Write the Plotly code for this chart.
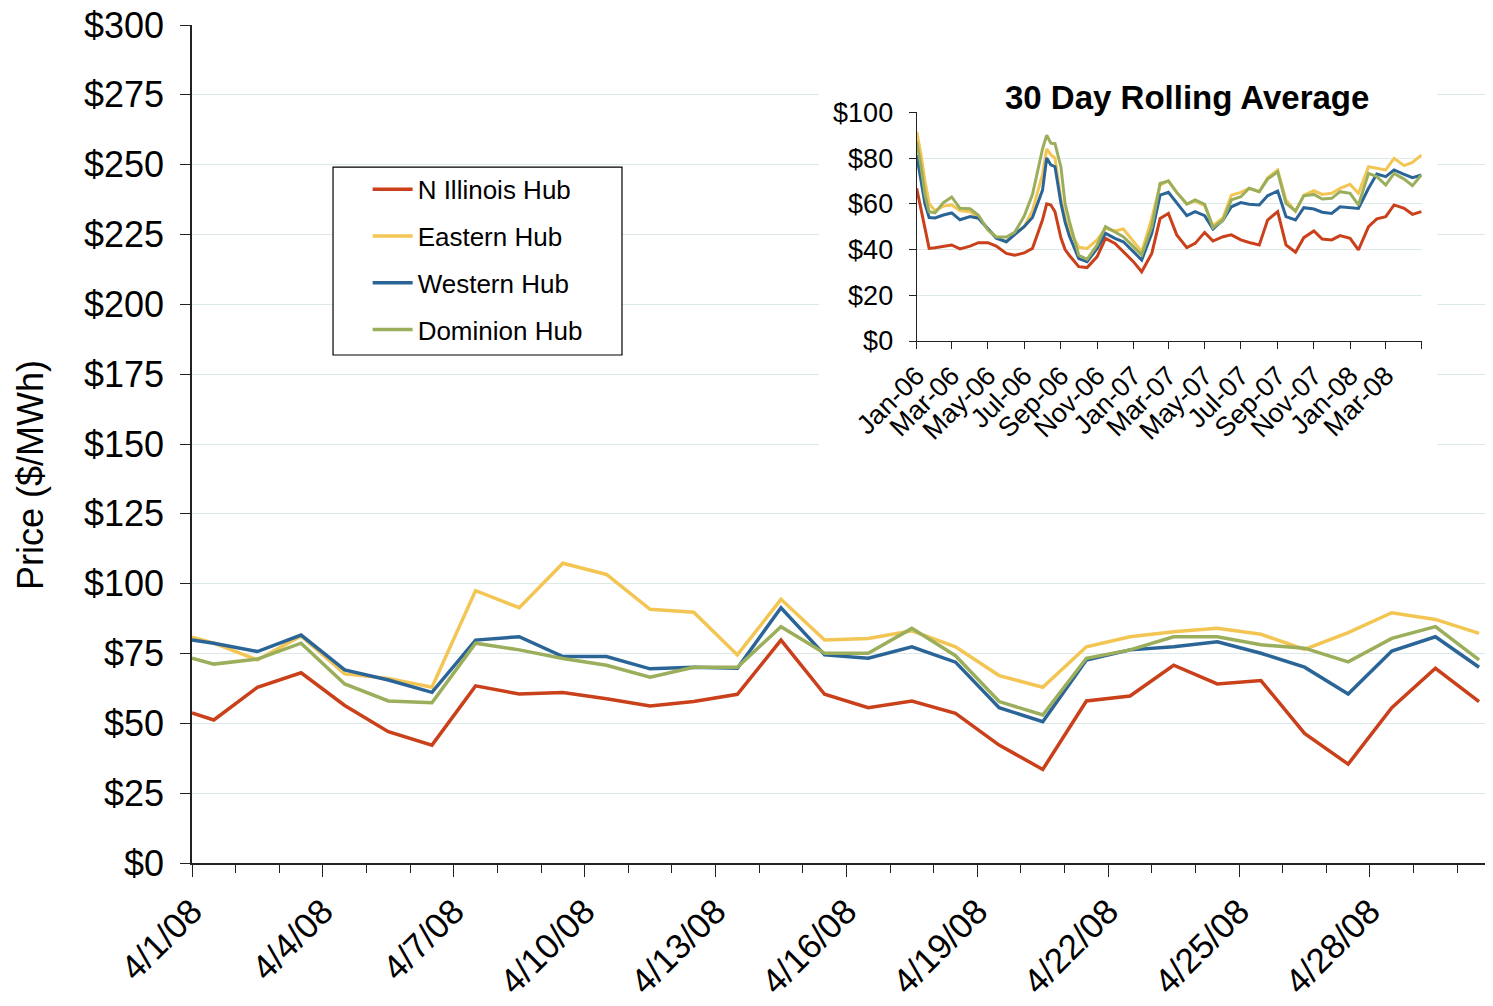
"""PJM hub daily prices for April 2008 with a 30-day rolling average inset."""
import plotly.graph_objects as go

# ---- Main chart data: daily on-peak prices, April 2008 ($/MWh) -------
DAYS = [
    "2008-04-01 00:00", "2008-04-01 12:00", "2008-04-02 12:00", "2008-04-03 12:00",
    "2008-04-04 12:00", "2008-04-05 12:00", "2008-04-06 12:00", "2008-04-07 12:00",
    "2008-04-08 12:00", "2008-04-09 12:00", "2008-04-10 12:00", "2008-04-11 12:00",
    "2008-04-12 12:00", "2008-04-13 12:00", "2008-04-14 12:00", "2008-04-15 12:00",
    "2008-04-16 12:00", "2008-04-17 12:00", "2008-04-18 12:00", "2008-04-19 12:00",
    "2008-04-20 12:00", "2008-04-21 12:00", "2008-04-22 12:00", "2008-04-23 12:00",
    "2008-04-24 12:00", "2008-04-25 12:00", "2008-04-26 12:00", "2008-04-27 12:00",
    "2008-04-28 12:00", "2008-04-29 12:00", "2008-04-30 12:00",
]
N_ILLINOIS = [53.7, 51.2, 62.9, 68.1, 56.4, 47.0, 42.2, 63.4, 60.5, 61.0, 58.8,
              56.2, 57.8, 60.4, 79.8, 60.4, 55.6, 58.0, 53.6, 42.2, 33.5,
              58.0, 59.8, 70.8, 64.1, 65.3, 46.4, 35.4, 55.6, 69.7, 57.8]
EASTERN = [80.8, 78.7, 72.7, 81.3, 67.7, 66.1, 62.9, 97.5, 91.4, 107.3, 103.3,
           90.8, 89.8, 74.5, 94.4, 79.8, 80.4, 83.1, 77.4, 67.1, 62.9,
           77.4, 81.0, 82.8, 84.0, 81.9, 76.5, 82.5, 89.6, 87.2, 82.2]
WESTERN = [79.8, 78.7, 75.7, 81.6, 69.1, 65.5, 61.1, 79.8, 81.0, 73.9, 73.9,
           69.5, 70.1, 69.7, 91.4, 74.5, 73.3, 77.4, 71.9, 55.6, 50.6,
           72.7, 76.3, 77.4, 79.2, 75.1, 70.1, 60.5, 75.9, 81.0, 70.1]
DOMINION = [73.3, 71.2, 73.0, 78.7, 64.1, 58.0, 57.4, 78.7, 76.3, 73.2, 70.8,
            66.5, 70.1, 70.1, 84.6, 75.1, 75.1, 84.0, 74.2, 57.8, 53.0,
            73.3, 76.3, 81.0, 81.0, 78.1, 76.9, 72.0, 80.4, 84.6, 72.7]

# ---- Inset data: 30 day rolling average ($/MWh) ----------------------
INSET_DATES = [
    "2006-01-01", "2006-01-08", "2006-01-15", "2006-01-22", "2006-02-01", "2006-02-15",
    "2006-03-01", "2006-03-15", "2006-04-01", "2006-04-15", "2006-05-01", "2006-05-15",
    "2006-06-01", "2006-06-15", "2006-07-01", "2006-07-15", "2006-08-01", "2006-08-08",
    "2006-08-15", "2006-08-22", "2006-09-01", "2006-09-08", "2006-09-15", "2006-10-01",
    "2006-10-15", "2006-11-01", "2006-11-15", "2006-12-01", "2006-12-15", "2007-01-01",
    "2007-01-15", "2007-02-01", "2007-02-15", "2007-03-01", "2007-03-15", "2007-04-01",
    "2007-04-15", "2007-05-01", "2007-05-15", "2007-06-01", "2007-06-15", "2007-07-01",
    "2007-07-15", "2007-08-01", "2007-08-15", "2007-09-01", "2007-09-15", "2007-10-01",
    "2007-10-15", "2007-11-01", "2007-11-15", "2007-12-01", "2007-12-15", "2008-01-01",
    "2008-01-15", "2008-02-01", "2008-02-15", "2008-03-01", "2008-03-15", "2008-04-01",
    "2008-04-15", "2008-04-30",
]
AVG_N_ILLINOIS = [66.8, 58.0, 48.0, 40.5, 40.8, 41.3, 42.0, 40.3, 41.5, 43.0, 43.0, 41.5,
                  38.3, 37.5, 38.5, 40.5, 53.0, 60.0, 59.5, 56.5, 45.0, 40.0, 37.5, 32.5,
                  32.1, 36.9, 44.9, 42.7, 39.1, 34.7, 30.3, 38.3, 53.6, 55.8, 46.4, 40.8,
                  42.7, 47.5, 43.7, 45.6, 46.4, 44.2, 43.1, 42.0, 52.9, 56.6, 42.0, 38.8,
                  45.2, 48.1, 44.6, 44.2, 46.1, 44.9, 39.8, 50.0, 53.4, 54.4, 59.5, 58.0,
                  55.4, 56.6]
AVG_EASTERN = [91.5, 82.0, 70.0, 60.0, 57.0, 59.0, 59.5, 57.0, 56.5, 54.0, 49.0, 45.5,
               43.3, 47.0, 50.0, 57.0, 73.0, 84.0, 81.5, 80.0, 62.0, 54.0, 48.5, 41.0,
               40.5, 44.2, 49.3, 48.1, 49.0, 43.4, 39.1, 53.6, 68.2, 70.0, 65.0, 59.9,
               61.2, 59.2, 50.4, 53.9, 63.8, 65.0, 66.8, 65.3, 71.4, 74.8, 61.7, 56.6,
               63.8, 65.7, 64.1, 64.6, 66.8, 68.5, 64.6, 76.2, 75.5, 74.8, 79.9, 76.7,
               78.1, 81.3]
AVG_WESTERN = [81.3, 71.0, 60.0, 54.0, 53.8, 55.1, 56.0, 53.0, 54.4, 53.7, 48.8, 45.0,
               43.4, 46.5, 50.0, 54.0, 66.0, 80.0, 77.0, 76.2, 60.2, 52.0, 46.0, 36.0,
               34.7, 40.5, 47.1, 44.9, 43.4, 39.1, 35.4, 47.1, 63.8, 65.0, 60.5, 54.8,
               56.6, 54.8, 49.0, 52.9, 58.7, 60.5, 59.8, 59.5, 63.5, 65.6, 54.4, 52.9,
               58.3, 57.7, 56.3, 55.8, 58.7, 58.3, 58.0, 66.8, 73.0, 71.9, 74.8, 72.9,
               71.4, 72.6]
AVG_DOMINION = [87.2, 77.0, 64.0, 56.5, 56.0, 60.5, 63.0, 58.0, 57.8, 55.0, 48.5, 45.5,
                45.5, 47.5, 54.5, 64.0, 84.0, 90.0, 86.5, 86.3, 76.0, 60.0, 52.5, 37.5,
                35.7, 42.0, 50.0, 47.5, 45.6, 41.3, 37.6, 50.0, 68.9, 70.0, 65.0, 59.9,
                61.7, 59.8, 49.6, 52.9, 61.7, 63.1, 66.8, 65.3, 70.8, 74.0, 60.2, 56.9,
                63.5, 64.1, 62.1, 62.4, 65.3, 64.6, 59.5, 73.3, 71.9, 68.2, 73.3, 70.8,
                67.9, 72.6]

INSET_TICKS = ["2006-01-01", "2006-03-01", "2006-05-01", "2006-07-01", "2006-09-01",
               "2006-11-01", "2007-01-01", "2007-03-01", "2007-05-01", "2007-07-01",
               "2007-09-01", "2007-11-01", "2008-01-01", "2008-03-01", "2008-05-01"]
INSET_TICK_TEXT = ["Jan-06", "Mar-06", "May-06", "Jul-06", "Sep-06", "Nov-06", "Jan-07",
                   "Mar-07", "May-07", "Jul-07", "Sep-07", "Nov-07", "Jan-08", "Mar-08", ""]

# ---- Theme -----------------------------------------------------------
FONT = "Liberation Sans, Arial, sans-serif"
GRID = "#DDE9E9"
AXIS = "#222222"
HUBS = [
    ("N Illinois Hub", "#C9401A", N_ILLINOIS, AVG_N_ILLINOIS),
    ("Eastern Hub", "#F3C553", EASTERN, AVG_EASTERN),
    ("Western Hub", "#2B6597", WESTERN, AVG_WESTERN),
    ("Dominion Hub", "#9BAE5B", DOMINION, AVG_DOMINION),
]

fig = go.Figure()
for name, colour, daily, rolling in HUBS:
    fig.add_trace(go.Scatter(
        x=DAYS, y=daily, mode="lines", name=name, legendgroup=name,
        line=dict(color=colour, width=3.5),
    ))
for name, colour, daily, rolling in HUBS:
    fig.add_trace(go.Scatter(
        x=INSET_DATES, y=rolling, mode="lines", name=name, showlegend=False,
        xaxis="x2", yaxis="y2", line=dict(color=colour, width=3),
    ))

# the page has an 8px body margin, so margins are trimmed by 8px
fig.update_layout(
    width=1493, height=1006,
    margin=dict(l=184, r=8, t=17, b=151),
    paper_bgcolor="white", plot_bgcolor="white",
    font=dict(family=FONT, color="black"),
    showlegend=True,
    legend=dict(
        x=0.135, y=0.832, xanchor="left", yanchor="top",
        bgcolor="rgba(0,0,0,0)", borderwidth=0,
        font=dict(size=26, family=FONT), itemwidth=40,
        tracegroupgap=10,
    ),
    xaxis=dict(
        type="date", range=["2008-04-01", "2008-04-30 19:40"], automargin=False,
        tick0="2008-04-01", dtick=3 * 86400000, tickformat="%-m/%-d/%y",
        tickangle=-45, tickfont=dict(size=35), ticklabeloverflow="allow",
        ticks="outside", ticklen=12, tickcolor=AXIS,
        minor=dict(dtick=86400000, ticks="outside", ticklen=8, tickcolor=AXIS),
        showline=True, linecolor=AXIS, linewidth=1.5, showgrid=False,
    ),
    yaxis=dict(
        range=[0, 300], dtick=25, tickprefix="$", tickfont=dict(size=36),
        ticks="outside", ticklen=10, tickcolor=AXIS, ticklabelstandoff=9,
        ticklabeloverflow="allow",
        showline=True, linecolor=AXIS, linewidth=1.5, automargin=False,
        showgrid=True, gridcolor=GRID, zeroline=False,
    ),
    xaxis2=dict(
        domain=[0.557, 0.9454], anchor="y2", type="date", automargin=False,
        range=["2006-01-01", "2008-05-01"],
        tickvals=INSET_TICKS, ticktext=INSET_TICK_TEXT,
        tickangle=-45, tickfont=dict(size=27),
        ticks="outside", ticklen=7, tickcolor=AXIS,
        showline=True, linecolor=AXIS, linewidth=1.2, showgrid=False,
    ),
    yaxis2=dict(
        domain=[0.6229, 0.8958], anchor="x2", automargin=False,
        range=[0, 100], dtick=20, tickprefix="$", tickfont=dict(size=27),
        ticks="outside", ticklen=7, tickcolor=AXIS, ticklabelstandoff=10,
        showline=True, linecolor=AXIS, linewidth=1.2,
        showgrid=True, gridcolor=GRID, zeroline=False,
    ),
    shapes=[
        # white panel behind the inset, hiding the main grid
        dict(type="rect", xref="x", yref="y", layer="between",
             x0="2008-04-15 09:00", x1="2008-04-29 13:00", y0=148, y1=282,
             fillcolor="white", line=dict(width=0)),
        # legend frame
        dict(type="rect", xref="paper", yref="paper", layer="above",
             x0=0.1084, x1=0.3305, y0=0.6062, y1=0.8305,
             fillcolor="white", line=dict(color="black", width=1.2)),
    ],
    annotations=[
        dict(text="Price ($/MWh)", xref="paper", yref="paper",
             x=-0.1245, y=0.463, xanchor="center", yanchor="middle",
             textangle=-90, showarrow=False, font=dict(size=36, family=FONT)),
        dict(text="<b>30 Day Rolling Average</b>", xref="paper", yref="paper",
             x=0.765, y=0.914, xanchor="center", yanchor="middle",
             showarrow=False, font=dict(size=33, family=FONT)),
    ],
)

fig.write_html("out.html")
